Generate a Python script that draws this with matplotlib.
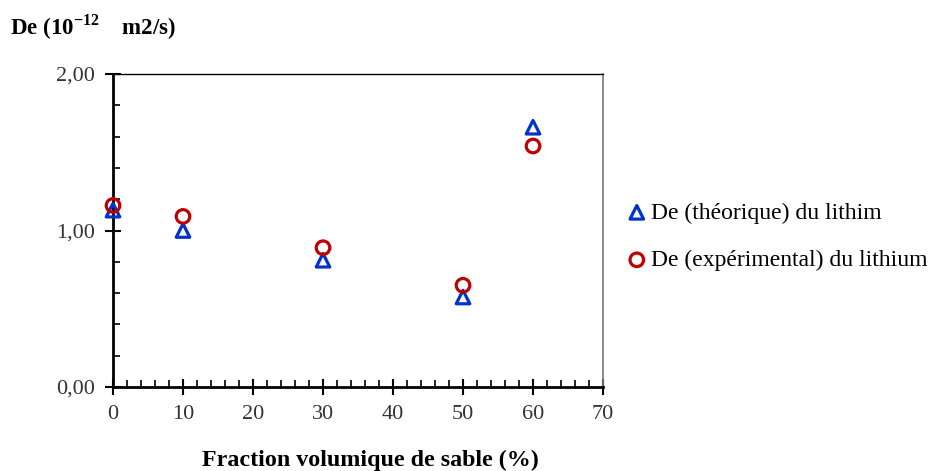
import matplotlib
matplotlib.use('Agg')
import matplotlib.pyplot as plt
from matplotlib.ticker import MultipleLocator, FuncFormatter

# data
sable = [0, 10, 30, 50, 60]
de_theorique = [1.13, 1.00, 0.81, 0.575, 1.66]
de_experimental = [1.16, 1.09, 0.89, 0.65, 1.54]

plt.rcParams['font.family'] = ['Liberation Serif', 'DejaVu Serif']
plt.rcParams['mathtext.fontset'] = 'custom'
plt.rcParams['mathtext.rm'] = 'Liberation Serif'
plt.rcParams['mathtext.bf'] = 'Liberation Serif:bold'

fig = plt.figure(figsize=(9.31, 4.71), dpi=100)
ax = fig.add_axes([113/931, 1 - 387/471, 490/931, 313/471])

ax.scatter(sable, de_theorique, marker='^', s=95, facecolors='none',
           edgecolors='#0033cc', linewidths=2.3, label='De (théorique) du lithim',
           clip_on=False, zorder=3)
ax.scatter(sable, de_experimental, marker='o', s=95, facecolors='none',
           edgecolors='#c00000', linewidths=2.3, label='De (expérimental) du lithium',
           clip_on=False, zorder=4)

ax.set_xlim(0, 70)
ax.set_ylim(0, 2)
ax.xaxis.set_major_locator(MultipleLocator(10))
ax.xaxis.set_minor_locator(MultipleLocator(2))
ax.yaxis.set_major_locator(MultipleLocator(1))
ax.yaxis.set_minor_locator(MultipleLocator(0.2))
ax.yaxis.set_major_formatter(FuncFormatter(lambda v, p: ('%.2f' % v).replace('.', ',')))

ax.tick_params(which='major', direction='inout', length=12, width=1.5, labelsize=16,
               colors='black', pad=7)
ax.tick_params(which='minor', direction='in', length=5, width=1.2)
ax.tick_params(axis='both', labelcolor='#333333')

for s in ['left', 'bottom']:
    ax.spines[s].set_linewidth(2)
ax.spines['top'].set_linewidth(1)
ax.spines['right'].set_linewidth(1.2)
ax.spines['right'].set_color('#777777')

fig.text(370/931, 1 - 460/471, 'Fraction volumique de sable (%)', fontsize=17.3,
         fontweight='bold', ha='center', va='center')
fig.text(10/931, 1 - 27/471, r'De (10$^{\mathbf{-12}}$    m2/s)', fontsize=16.5, fontweight='bold',
         va='center', ha='left')

leg = fig.legend(loc='center left', bbox_to_anchor=(625/931, 1 - 236.5/471), frameon=False,
                 fontsize=17, handlelength=1.0, handletextpad=0.1, labelspacing=1.1,
                 borderaxespad=0, borderpad=0)

fig.savefig('out.png', dpi=100)
